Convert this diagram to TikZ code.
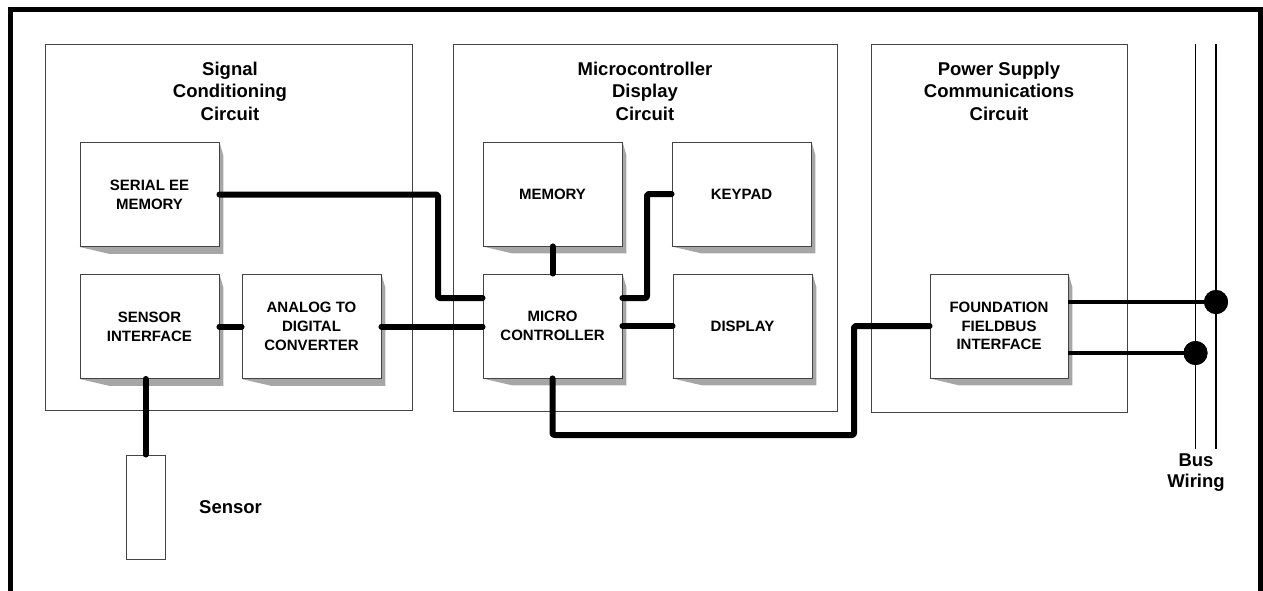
\documentclass[tikz,border=0pt]{standalone}
\usepackage{fontspec}
\setmainfont{Liberation Sans}
\usetikzlibrary{calc,backgrounds}
\definecolor{shadowgray}{HTML}{A6A6A6}
\definecolor{edgegray}{HTML}{444444}
\tikzset{
  group/.style={draw=edgegray, line width=0.9pt, inner sep=0pt},
  blk/.style={draw=edgegray, line width=0.9pt, fill=white, inner sep=0pt, align=center,
    minimum width=139pt, minimum height=104pt, font=\fontsize{15}{18.7}\selectfont\bfseries},
  title/.style={align=center, inner sep=0pt, font=\fontsize{18.5}{22.5}\selectfont\bfseries},
  conn/.style={line width=6pt, line cap=round, line join=round, rounded corners=2pt},
  busconn/.style={line width=3.5pt},
  wire/.style={line width=1.2pt},
  dot/.style={circle, fill=black, inner sep=0pt, minimum size=24pt},
}
\newcommand\boxshadow[1]{%
  \begin{pgfonlayer}{background}
  \fill[shadowgray] (#1.north east) -- ++(4,14) -- ($(#1.south east)+(4,7)$)
    -- ($(#1.south west)+(30,7)$) -- (#1.south west) -- cycle;
  \end{pgfonlayer}}
\begin{document}
\begin{tikzpicture}[x=1pt,y=-1pt]
\useasboundingbox (0,0) rectangle (1263,590);
% outer frame
\draw[line width=4.5pt] (10.5,595) -- (10.5,9.5) -- (1260.5,9.5) -- (1260.5,595);
% groups
\node[group, minimum width=367pt, minimum height=366pt] (g1) at (228.5,227) {};
\node[group, minimum width=384pt, minimum height=367pt] (g2) at (645,227.5) {};
\node[group, minimum width=256pt, minimum height=368pt] (g3) at (999,228) {};
\node[title] (t1) at (230,91) {Signal\\Conditioning\\Circuit};
\node[title] (t2) at (645,91) {Microcontroller\\Display\\Circuit};
\node[title] (t3) at (999,91) {Power Supply\\Communications\\Circuit};
% blocks
\node[blk] (see) at (149.5,194.5) {SERIAL EE\\MEMORY};
\node[blk] (si) at (149.5,326.5) {SENSOR\\INTERFACE};
\node[blk] (adc) at (311.5,326.5) {ANALOG TO\\DIGITAL\\CONVERTER};
\node[blk] (mem) at (552.5,194) {MEMORY};
\node[blk] (kp) at (741.5,194) {KEYPAD};
\node[blk] (mc) at (552.5,326) {MICRO\\CONTROLLER};
\node[blk] (disp) at (742.5,326) {DISPLAY};
\node[blk, minimum width=138pt] (ff) at (999,326) {FOUNDATION\\FIELDBUS\\INTERFACE};
\foreach \n in {see,si,adc,mem,kp,mc,disp,ff} {\boxshadow{\n}}
% sensor
\node[draw=edgegray, line width=0.9pt, minimum width=39pt, minimum height=104pt, inner sep=0pt] (sensor) at (145.5,507) {};
\node[title, anchor=west] (sensorlbl) at (199,507) {Sensor};
% connectors
\draw[conn] (see.east) -- (438,194.5) |- ([yshift=28pt]mc.west);
\draw[conn] (adc.east) -- (adc.east -| mc.west);
\draw[conn] (si.east) -- (adc.west);
\draw[conn] (sensor.north |- si.south) -- (sensor.north);
\draw[conn] (mem.south) -- (mc.north);
\draw[conn] ([yshift=28pt]mc.east) -- (647,298) |- (kp.west);
\draw[conn] (mc.east) -- (mc.east -| disp.west);
\draw[conn] (mc.south) |- (854,435) |- (ff.west);
% bus wiring
\coordinate (w1t) at (1195.5,44);
\coordinate (w1b) at (1195.5,449);
\coordinate (w2t) at (1216,44);
\coordinate (w2b) at (1216,449);
\draw[wire] (w1t) -- (w1b);
\draw[wire] (w2t) -- (w2b);
\node[dot] (d1) at (1216,302) {};
\node[dot] (d2) at (1195.5,353) {};
\draw[busconn] ([yshift=24pt]ff.east) -- (d1.center);
\draw[busconn] ([yshift=-27pt]ff.east) -- (d2.center);
\node[dot] at (d1) {};
\node[dot] at (d2) {};
\node[title, font=\fontsize{18.5}{21}\selectfont\bfseries] (buslbl) at (1196,472.5) {Bus\\Wiring};
\end{tikzpicture}
\end{document}
